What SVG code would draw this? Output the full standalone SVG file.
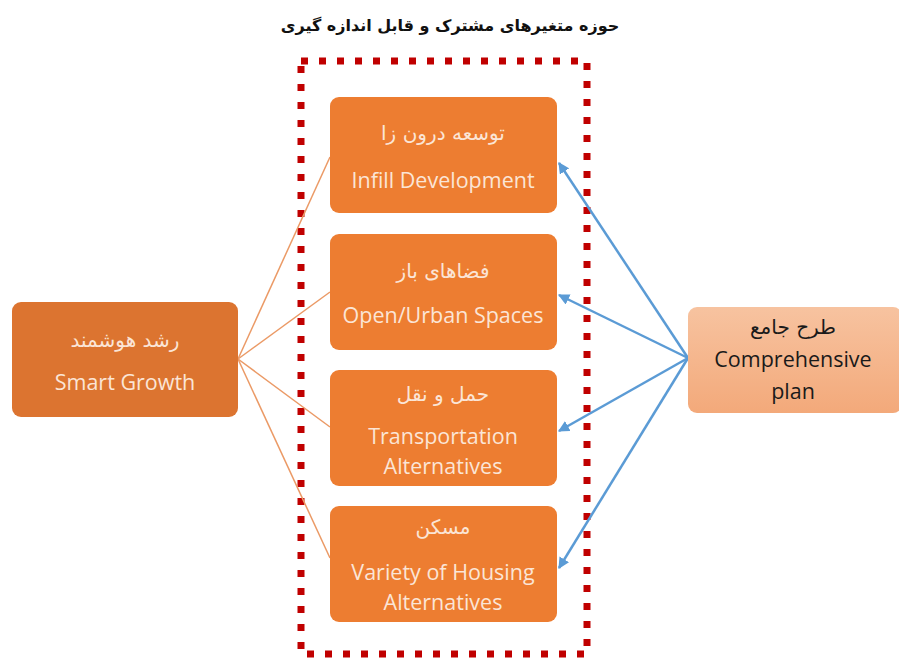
<svg xmlns="http://www.w3.org/2000/svg" width="899" height="658" viewBox="0 0 899 658">
<defs>
<marker id="ah" viewBox="0 0 10 10" refX="9" refY="5" markerWidth="4.5" markerHeight="4.5" orient="auto-start-reverse" markerUnits="strokeWidth">
<path d="M0,0 L10,5 L0,10 z" fill="#5b9bd5"/>
</marker>
<linearGradient id="cg" x1="0" y1="0" x2="0" y2="1">
<stop offset="0" stop-color="#f7c3a0"/>
<stop offset="1" stop-color="#f3a97a"/>
</linearGradient>
</defs>
<style>
.box{fill:#ed7d31;}
.sg{fill:#dc7430;}
.en{font-family:"Open Sans","Noto Sans",sans-serif;font-size:21.5px;fill:#fbe5d6;text-anchor:middle;}
.fa{font-family:"DejaVu Sans","Noto Sans",sans-serif;font-size:20px;fill:#fbe5d6;text-anchor:middle;}
.dk{fill:#1a1a1a;}
.ol{stroke:#eb9a66;stroke-width:1.5;fill:none;}
.bl{stroke:#5b9bd5;stroke-width:2.5;fill:none;marker-end:url(#ah);}
</style>
<rect width="899" height="658" fill="#ffffff"/>
<text x="450" y="31" font-family="DejaVu Sans, sans-serif" font-size="16" font-weight="bold" text-anchor="middle" fill="#111" direction="rtl">حوزه متغیرهای مشترک و قابل اندازه گیری</text>
<rect id="scope" x="301" y="61" width="286" height="593" fill="none" stroke="#c00000" stroke-width="7" stroke-dasharray="7 11"/>
<g id="connectors">
<line class="ol" x1="238" y1="359" x2="330" y2="157"/>
<line class="ol" x1="238" y1="359" x2="330" y2="292"/>
<line class="ol" x1="238" y1="359" x2="330" y2="427"/>
<line class="ol" x1="238" y1="359" x2="330" y2="558"/>
<line class="bl" x1="688" y1="358" x2="559" y2="163"/>
<line class="bl" x1="688" y1="358" x2="559" y2="295"/>
<line class="bl" x1="688" y1="358" x2="559" y2="431"/>
<line class="bl" x1="688" y1="358" x2="559" y2="568"/>
</g>
<g id="smart-growth">
<rect class="sg" x="12" y="302" width="226" height="115" rx="9"/>
<text class="fa" x="125" y="347" direction="rtl">رشد هوشمند</text>
<text class="en" x="125" y="390">Smart Growth</text>
</g>
<g id="infill">
<rect class="box" x="330" y="97" width="227" height="116" rx="9"/>
<text class="fa" x="443" y="140" direction="rtl">توسعه درون زا</text>
<text class="en" x="443" y="188">Infill Development</text>
</g>
<g id="open-spaces">
<rect class="box" x="330" y="234" width="227" height="116" rx="9"/>
<text class="fa" x="443" y="278" direction="rtl">فضاهای باز</text>
<text class="en" x="443" y="323">Open/Urban Spaces</text>
</g>
<g id="transportation">
<rect class="box" x="330" y="370" width="227" height="116" rx="9"/>
<text class="fa" x="443" y="401" direction="rtl">حمل و نقل</text>
<text class="en" x="443" y="444">Transportation</text>
<text class="en" x="443" y="474">Alternatives</text>
</g>
<g id="housing">
<rect class="box" x="330" y="506" width="227" height="116" rx="9"/>
<text class="fa" x="443" y="534" direction="rtl">مسکن</text>
<text class="en" x="443" y="580">Variety of Housing</text>
<text class="en" x="443" y="610">Alternatives</text>
</g>
<g id="comprehensive-plan">
<rect x="688" y="307" width="214" height="106" rx="9" fill="url(#cg)"/>
<text class="fa dk" x="793" y="334" direction="rtl">طرح جامع</text>
<text class="en dk" x="793" y="367">Comprehensive</text>
<text class="en dk" x="793" y="399">plan</text>
</g>
</svg>
